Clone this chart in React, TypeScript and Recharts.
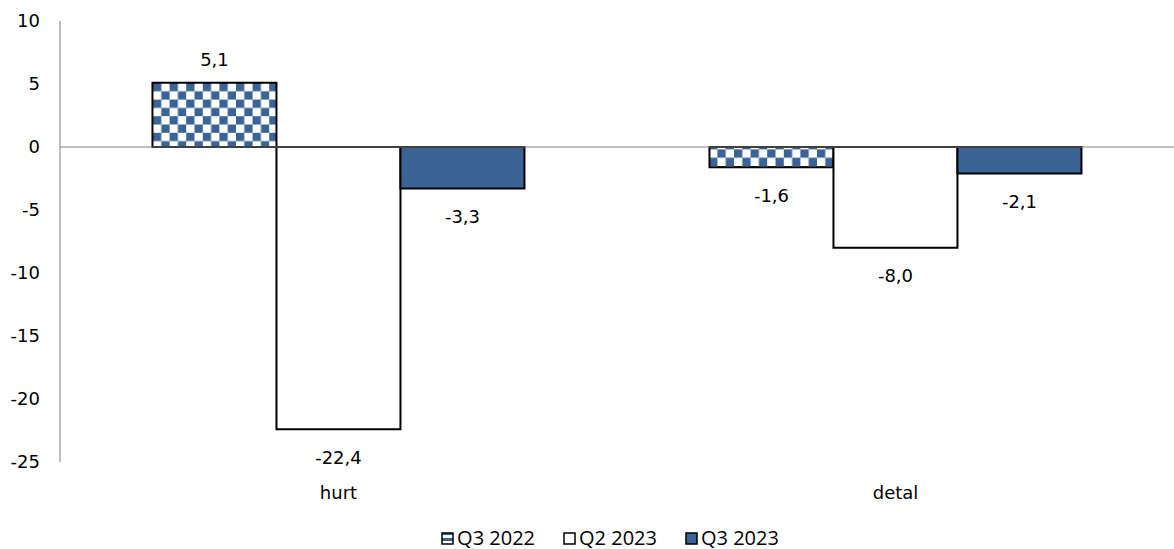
import { BarChart, Bar, XAxis, YAxis, ReferenceLine, LabelList } from "recharts"

const categories = ["hurt", "detal"]
const q3_2022 = [5.1, -1.6]
const q2_2023 = [-22.4, -8.0]
const q3_2023 = [-3.3, -2.1]
const yTicks = [-25, -20, -15, -10, -5, 0, 5, 10]

const seriesNames = ["Q3 2022", "Q2 2023", "Q3 2023"]

const data = categories.map((name, i) => ({
  name,
  a: q3_2022[i],
  b: q2_2023[i],
  c: q3_2023[i],
}))

const BLUE = "#3A6396"
const FONT = "'DejaVu Sans', Verdana, sans-serif"

const fmt = (v: number) => v.toFixed(1).replace(".", ",")

// value above positive bars, below negative ones
const ValueLabel = (props: any) => {
  const { x, y, width, height, value } = props
  const top = Math.min(y, y + height)
  const bottom = Math.max(y, y + height)
  const cy = value >= 0 ? top - 23 : bottom + 28
  return (
    <text
      x={x + width / 2}
      y={cy}
      textAnchor="middle"
      dominantBaseline="central"
      fontFamily={FONT}
      fontSize={18}
      fill="#000"
    >
      {fmt(value)}
    </text>
  )
}

const LegendIcon = ({ fill }: { fill: string }) => (
  <svg width={13} height={13} style={{ marginRight: 3 }}>
    <rect x={1} y={1} width={11} height={11} fill={fill} stroke="#000" strokeWidth={1.5} />
  </svg>
)

export default function App() {
  const fills = ["url(#checkerSmall)", "#FFFFFF", BLUE]
  return (
    <div style={{ position: "absolute", left: 0, top: 0, width: 1174, height: 549, background: "#fff" }}>
      <BarChart
        width={1174}
        height={549}
        data={data}
        margin={{ top: 21, right: 0, left: 0, bottom: 47 }}
        barCategoryGap="16.6%"
        barGap={0}
      >
        <defs>
          <pattern id="checker" width={16.6} height={16.6} patternUnits="userSpaceOnUse" x={153} y={83}>
            <rect width={16.6} height={16.6} fill="#fff" />
            <rect x={0} y={0} width={8.3} height={8.3} fill={BLUE} />
            <rect x={8.3} y={8.3} width={8.3} height={8.3} fill={BLUE} />
          </pattern>
          <pattern id="checkerSmall" width={6} height={6} patternUnits="userSpaceOnUse">
            <rect width={6} height={6} fill="#fff" />
            <rect x={0} y={0} width={6} height={3} fill={BLUE} />
          </pattern>
        </defs>
        <XAxis
          dataKey="name"
          axisLine={false}
          tickLine={false}
          height={40}
          tickSize={6}
          tickMargin={18}
          tick={{ fill: "#000", fontSize: 18, fontFamily: FONT }}
        />
        <YAxis
          width={60}
          domain={[-25, 10]}
          ticks={yTicks}
          axisLine={{ stroke: "#808080", strokeWidth: 1 }}
          tickLine={false}
          tickSize={6}
          tickMargin={14}
          tick={{ fill: "#000", fontSize: 18, fontFamily: FONT }}
        />
        <ReferenceLine y={0} stroke="#808080" strokeWidth={1} />
        <Bar dataKey="a" name={seriesNames[0]} fill="url(#checker)" stroke="#000" strokeWidth={2} isAnimationActive={false}>
          <LabelList dataKey="a" content={ValueLabel} />
        </Bar>
        <Bar dataKey="b" name={seriesNames[1]} fill="#FFFFFF" stroke="#000" strokeWidth={2} isAnimationActive={false}>
          <LabelList dataKey="b" content={ValueLabel} />
        </Bar>
        <Bar dataKey="c" name={seriesNames[2]} fill={BLUE} stroke="#000" strokeWidth={2} isAnimationActive={false}>
          <LabelList dataKey="c" content={ValueLabel} />
        </Bar>
      </BarChart>
      <div
        style={{
          position: "absolute",
          top: 526,
          left: 46,
          width: 1128,
          display: "flex",
          justifyContent: "center",
          gap: 28,
          fontFamily: "'Open Sans', sans-serif",
          fontSize: 20,
          lineHeight: "24px",
          color: "#000",
        }}
      >
        {seriesNames.map((n, i) => (
          <div key={n} style={{ display: "flex", alignItems: "center" }}>
            <LegendIcon fill={fills[i]} />
            <span>{n}</span>
          </div>
        ))}
      </div>
    </div>
  )
}
